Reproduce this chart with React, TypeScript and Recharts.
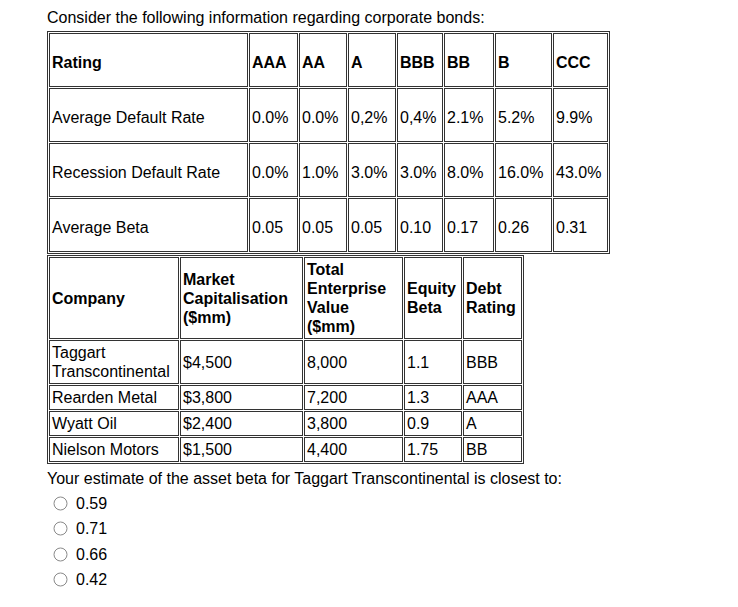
import React from "react";
import { Surface, Dot } from "recharts";

const ratings = ["AAA", "AA", "A", "BBB", "BB", "B", "CCC"];
const averageDefaultRate = ["0.0%", "0.0%", "0,2%", "0,4%", "2.1%", "5.2%", "9.9%"];
const recessionDefaultRate = ["0.0%", "1.0%", "3.0%", "3.0%", "8.0%", "16.0%", "43.0%"];
const averageBeta = ["0.05", "0.05", "0.05", "0.10", "0.17", "0.26", "0.31"];

const companyHeaders = ["Company", "Market Capitalisation ($mm)", "Total Enterprise Value ($mm)", "Equity Beta", "Debt Rating"];
const companies = ["Taggart Transcontinental", "Rearden Metal", "Wyatt Oil", "Nielson Motors"];
const marketCap = ["$4,500", "$3,800", "$2,400", "$1,500"];
const enterpriseValue = ["8,000", "7,200", "3,800", "4,400"];
const equityBeta = ["1.1", "1.3", "0.9", "1.75"];
const debtRating = ["BBB", "AAA", "A", "BB"];

const answers = ["0.59", "0.71", "0.66", "0.42"];

const font = '"Liberation Sans", Arial, sans-serif';
const line = "1px solid #333";

const tableStyle: React.CSSProperties = {
  borderCollapse: "separate",
  borderSpacing: 1,
  border: line,
  tableLayout: "fixed",
  boxSizing: "border-box",
};

const cell = (w: number, bold = false, h?: number): React.CSSProperties => ({
  width: w,
  height: h,
  boxSizing: "border-box",
  border: line,
  padding: h ? "5px 2px 0px" : 2,
  verticalAlign: "middle",
  textAlign: "left",
  fontWeight: bold ? "bold" : "normal",
  lineHeight: "19px",
});

const ratingCols = [199, 49, 48, 48, 46, 50, 57, 55];
const companyCols = [130, 123, 99, 58, 59];

function RatingTable() {
  const rows = [
    { label: "Average Default Rate", values: averageDefaultRate },
    { label: "Recession Default Rate", values: recessionDefaultRate },
    { label: "Average Beta", values: averageBeta },
  ];
  return (
    <table style={{ ...tableStyle, width: 563 }}>
      <tbody>
        <tr>
          <td style={cell(ratingCols[0], true, 54)}>Rating</td>
          {ratings.map((r, i) => (
            <td key={r} style={cell(ratingCols[i + 1], true, 54)}>{r}</td>
          ))}
        </tr>
        {rows.map((row) => (
          <tr key={row.label}>
            <td style={cell(ratingCols[0], false, 54)}>{row.label}</td>
            {row.values.map((v, i) => (
              <td key={i} style={cell(ratingCols[i + 1], false, 54)}>{v}</td>
            ))}
          </tr>
        ))}
      </tbody>
    </table>
  );
}

function CompanyTable() {
  return (
    <table style={{ ...tableStyle, width: 477, marginTop: 1 }}>
      <tbody>
        <tr>
          {companyHeaders.map((h, i) => (
            <td key={h} style={cell(companyCols[i], true)}>{h}</td>
          ))}
        </tr>
        {companies.map((c, r) => (
          <tr key={c}>
            <td style={cell(companyCols[0])}>{c}</td>
            <td style={cell(companyCols[1])}>{marketCap[r]}</td>
            <td style={cell(companyCols[2])}>{enterpriseValue[r]}</td>
            <td style={cell(companyCols[3])}>{equityBeta[r]}</td>
            <td style={cell(companyCols[4])}>{debtRating[r]}</td>
          </tr>
        ))}
      </tbody>
    </table>
  );
}

export default function App() {
  return (
    <div style={{ width: 722, height: 591, fontFamily: font, fontSize: 16, color: "#000", paddingLeft: 39, boxSizing: "border-box" }}>
      <div style={{ lineHeight: "19px" }}>Consider the following information regarding corporate bonds:</div>
      <div style={{ marginTop: 4 }}>
        <RatingTable />
        <CompanyTable />
      </div>
      <div style={{ lineHeight: "19px", marginTop: 5 }}>
        Your estimate of the asset beta for Taggart Transcontinental is closest to:
      </div>
      <div style={{ marginTop: 3 }}>
        {answers.map((a) => (
          <div key={a} style={{ height: 25.3, display: "flex", alignItems: "center", paddingLeft: 6 }}>
            <Surface width={15} height={15} viewBox={{ x: 0, y: 0, width: 15, height: 15 }}>
              <Dot cx={7.5} cy={7.5} r={6.5} fill="#fff" stroke="#8a8a8a" strokeWidth={1} />
            </Surface>
            <span style={{ marginLeft: 8, lineHeight: "19px" }}>{a}</span>
          </div>
        ))}
      </div>
    </div>
  );
}
